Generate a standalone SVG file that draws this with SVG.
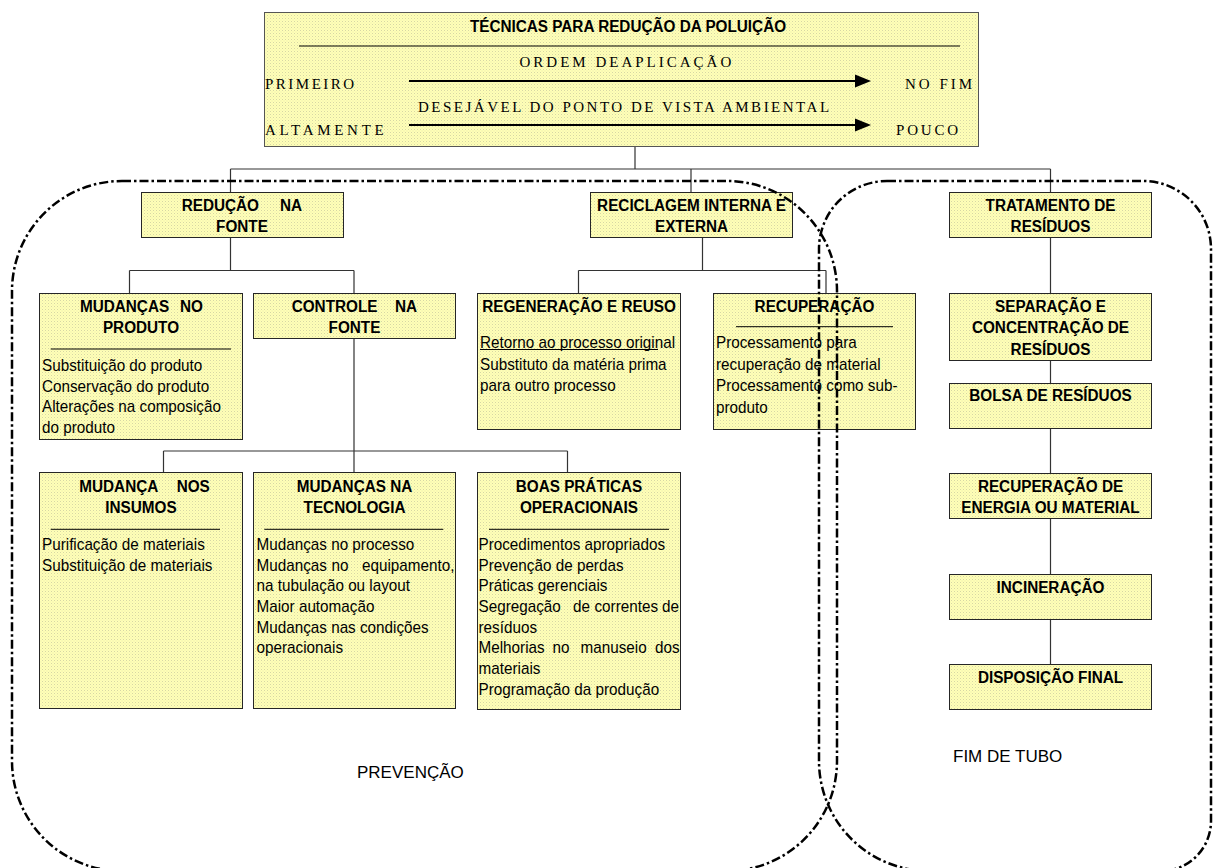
<svg xmlns="http://www.w3.org/2000/svg" width="1213" height="868" viewBox="0 0 1213 868">
<defs>
<pattern id="dots" width="3" height="3" patternUnits="userSpaceOnUse">
<rect width="3" height="3" fill="#ffffb6"/>
<rect width="1" height="1" fill="#d6d6a6"/>
<rect x="1.5" y="1.5" width="1" height="1" fill="#e8e8b4"/>
</pattern>
</defs>
<style>
.box{fill:url(#dots);stroke:#262626;stroke-width:1}
.t{font-family:"Liberation Sans",Arial,sans-serif;font-weight:bold;font-size:17px;text-anchor:middle;fill:#000;transform-box:fill-box;transform-origin:center;transform:scaleX(0.9)}
.tl{font-family:"Liberation Sans",Arial,sans-serif;font-weight:bold;font-size:17px;fill:#000;transform-box:fill-box;transform-origin:left;transform:scaleX(0.9)}
.b{font-family:"Liberation Sans",Arial,sans-serif;font-size:16.6px;fill:#000;transform-box:fill-box;transform-origin:left;transform:scaleX(0.92)}
.s{font-family:"Liberation Serif","Times New Roman",serif;font-size:15px;fill:#000}
.sep{stroke:#000;stroke-width:1}
.conn{stroke:#333;stroke-width:1.2;fill:none}
.region{fill:none;stroke:#000;stroke-width:2.5;stroke-dasharray:9 3 2.5 3}
.lbl{font-family:"Liberation Sans",Arial,sans-serif;font-size:17px;fill:#000}
</style>

<g id="connectors">
<path class="conn" d="M635,147V169M230.5,169H1050.5M230.5,169V192M691,169V192M1050.5,169V192"/>
<path class="conn" d="M230.5,237V270.5M129.5,270.5H354M129.5,270.5V293M354,270.5V293"/>
<path class="conn" d="M354,338V472M163.5,451H567.5M163.5,451V472M567.5,451V472"/>
<path class="conn" d="M702.5,237V270.5M578.5,270.5H826M578.5,270.5V293M826,270.5V293"/>
<path class="conn" d="M1050.5,237V293M1050.5,361V383M1050.5,428V473M1050.5,518V574M1050.5,619V664"/>
</g>

<g id="n-top">
<rect x="264.5" y="12.5" width="714" height="134" fill="url(#dots)" stroke="#555" stroke-width="1"/>
<text class="t" x="628" y="31.7">TÉCNICAS PARA REDUÇÃO DA POLUIÇÃO</text>
<line class="sep" x1="299" y1="46" x2="960" y2="46"/>
<text class="s" x="519.5" y="66.5" letter-spacing="3">ORDEM DEAPLICAÇÃO</text>
<text class="s" x="265" y="89" letter-spacing="2.5">PRIMEIRO</text>
<line x1="409" y1="81" x2="857" y2="81" stroke="#000" stroke-width="2"/>
<polygon points="855,74.5 871,81 855,87.5" fill="#000"/>
<text class="s" x="905" y="89" letter-spacing="3">NO FIM</text>
<text class="s" x="418" y="111.5" letter-spacing="2.5">DESEJÁVEL DO PONTO DE VISTA AMBIENTAL</text>
<text class="s" x="265" y="135" letter-spacing="3.7">ALTAMENTE</text>
<line x1="409" y1="125" x2="857" y2="125" stroke="#000" stroke-width="2"/>
<polygon points="855,118.5 871,125 855,131.5" fill="#000"/>
<text class="s" x="896" y="135" letter-spacing="2.8">POUCO</text>
</g>

<g id="n-reducao">
<rect class="box" x="141.5" y="192.5" width="202" height="45"/>
<text class="tl" x="181.7" y="211">REDUÇÃO</text>
<text class="tl" x="280" y="211">NA</text>
<text class="t" x="242" y="232.3">FONTE</text>
</g>

<g id="n-reciclagem">
<rect class="box" x="590.5" y="192.5" width="202" height="45"/>
<text class="t" x="691.5" y="211">RECICLAGEM INTERNA E</text>
<text class="t" x="691.5" y="232.3">EXTERNA</text>
</g>

<g id="n-tratamento">
<rect class="box" x="949.5" y="192.5" width="202" height="45"/>
<text class="t" x="1050.5" y="210.7">TRATAMENTO DE</text>
<text class="t" x="1050.5" y="232.3">RESÍDUOS</text>
</g>

<g id="n-mud-produto">
<rect class="box" x="39.5" y="293.5" width="203" height="146"/>
<text class="tl" x="80" y="311.7">MUDANÇAS</text>
<text class="tl" x="180" y="311.7">NO</text>
<text class="t" x="141" y="333.3">PRODUTO</text>
<line class="sep" x1="50.7" y1="349" x2="231" y2="349"/>
<text class="b" x="42" y="371">Substituição do produto</text>
<text class="b" x="42" y="391.7">Conservação do produto</text>
<text class="b" x="42" y="412.3">Alterações na composição</text>
<text class="b" x="42" y="433">do produto</text>
</g>

<g id="n-controle">
<rect class="box" x="253.5" y="293.5" width="202" height="45"/>
<text class="tl" x="291.7" y="311.7">CONTROLE</text>
<text class="tl" x="395" y="311.7">NA</text>
<text class="t" x="354.5" y="333.3">FONTE</text>
</g>

<g id="n-regeneracao">
<rect class="box" x="477.5" y="293.5" width="203" height="136"/>
<text class="t" x="579" y="311.7">REGENERAÇÃO E REUSO</text>
<line class="sep" x1="480" y1="349.5" x2="658" y2="349.5"/>
<text class="b" x="480" y="348.5">Retorno ao processo original</text>
<text class="b" x="480" y="370">Substituto da matéria prima</text>
<text class="b" x="480" y="391.5">para outro processo</text>
</g>

<g id="n-recuperacao">
<rect class="box" x="713.5" y="293.5" width="202" height="136"/>
<text class="t" x="814.5" y="311.7">RECUPERAÇÃO</text>
<line class="sep" x1="736" y1="326.7" x2="893" y2="326.7"/>
<text class="b" x="716" y="348.5">Processamento para</text>
<text class="b" x="716" y="370">recuperação de material</text>
<text class="b" x="716" y="391.5">Processamento como sub-</text>
<text class="b" x="716" y="413">produto</text>
</g>

<g id="n-insumos">
<rect class="box" x="39.5" y="472.5" width="203" height="236"/>
<text class="tl" x="79.3" y="492.3">MUDANÇA</text>
<text class="tl" x="176.7" y="492.3">NOS</text>
<text class="t" x="141" y="513.3">INSUMOS</text>
<line class="sep" x1="50.7" y1="529.3" x2="220" y2="529.3"/>
<text class="b" x="42" y="550">Purificação de materiais</text>
<text class="b" x="42" y="570.7">Substituição de materiais</text>
</g>

<g id="n-tecnologia">
<rect class="box" x="253.5" y="472.5" width="202" height="236"/>
<text class="t" x="354.5" y="492.3">MUDANÇAS NA</text>
<text class="t" x="354.5" y="513.3">TECNOLOGIA</text>
<line class="sep" x1="264.3" y1="529.3" x2="443.3" y2="529.3"/>
<text class="b" x="256.5" y="550">Mudanças no processo</text>
<text class="b" x="256.5" y="570.7">Mudanças</text>
<text class="b" x="331.5" y="570.7">no</text>
<text class="b" x="362" y="570.7">equipamento,</text>
<text class="b" x="256.5" y="591.3">na tubulação ou layout</text>
<text class="b" x="256.5" y="612">Maior automação</text>
<text class="b" x="256.5" y="632.7">Mudanças nas condições</text>
<text class="b" x="256.5" y="653.3">operacionais</text>
</g>

<g id="n-boas-praticas">
<rect class="box" x="477.5" y="472.5" width="203" height="237"/>
<text class="t" x="579" y="492.3">BOAS PRÁTICAS</text>
<text class="t" x="579" y="513.3">OPERACIONAIS</text>
<line class="sep" x1="489" y1="529.3" x2="669" y2="529.3"/>
<text class="b" x="478.5" y="550">Procedimentos apropriados</text>
<text class="b" x="478.5" y="570.7">Prevenção de perdas</text>
<text class="b" x="478.5" y="591.3">Práticas gerenciais</text>
<text class="b" x="478.5" y="612">Segregação</text>
<text class="b" x="573" y="612">de</text>
<text class="b" x="594.5" y="612">correntes</text>
<text class="b" x="662" y="612">de</text>
<text class="b" x="478.5" y="632.7">resíduos</text>
<text class="b" x="478.5" y="653.3">Melhorias</text>
<text class="b" x="552.5" y="653.3">no</text>
<text class="b" x="580.5" y="653.3">manuseio</text>
<text class="b" x="655" y="653.3">dos</text>
<text class="b" x="478.5" y="674">materiais</text>
<text class="b" x="478.5" y="694.7">Programação da produção</text>
</g>

<g id="n-separacao">
<rect class="box" x="949.5" y="293.5" width="202" height="67"/>
<text class="t" x="1050.5" y="311.7">SEPARAÇÃO E</text>
<text class="t" x="1050.5" y="333.3">CONCENTRAÇÃO DE</text>
<text class="t" x="1050.5" y="355">RESÍDUOS</text>
</g>

<g id="n-bolsa">
<rect class="box" x="949.5" y="383.5" width="202" height="45"/>
<text class="t" x="1050.5" y="401">BOLSA DE RESÍDUOS</text>
</g>

<g id="n-recup-energia">
<rect class="box" x="949.5" y="473.5" width="202" height="45"/>
<text class="t" x="1050.5" y="491.7">RECUPERAÇÃO DE</text>
<text class="t" x="1050.5" y="512.7">ENERGIA OU MATERIAL</text>
</g>

<g id="n-incineracao">
<rect class="box" x="949.5" y="574.5" width="202" height="45"/>
<text class="t" x="1050.5" y="592.7">INCINERAÇÃO</text>
</g>

<g id="n-disposicao">
<rect class="box" x="949.5" y="664.5" width="202" height="45"/>
<text class="t" x="1050.5" y="682.7">DISPOSIÇÃO FINAL</text>
</g>

<g id="regions">
<rect class="region" x="12" y="181" width="825" height="690" rx="110" ry="110"/>
<path class="region" d="M887,181H1143A68,68 0 0 1 1211,249V821A50,50 0 0 1 1161,871H929A110,110 0 0 1 819,761V249A68,68 0 0 1 887,181Z"/>
<text class="lbl" x="357" y="778">PREVENÇÃO</text>
<text class="lbl" x="953" y="762">FIM DE TUBO</text>
</g>
</svg>
